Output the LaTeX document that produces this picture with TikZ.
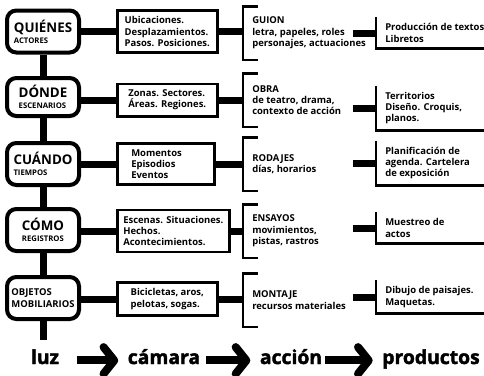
\documentclass[tikz,border=0pt]{standalone}
\usepackage{fontspec}
\setmainfont{Open Sans}
\newfontfamily\heavyfont{Open Sans}[BoldFeatures={FakeBold=2}]
\usetikzlibrary{arrows.meta}
\newcommand{\rotulo}[1]{{\fontsize{10}{11}\selectfont #1}}
\newcommand{\etiq}[1]{{\fontsize{5.8}{7.5}\selectfont #1}}
\begin{document}
\begin{tikzpicture}[x=0.75pt, y=-0.75pt, font=\bfseries\fontsize{7.1}{8.5}\selectfont,
  quien/.style={draw, line width=3pt, rounded corners=7pt, minimum width=54pt, minimum height=31.5pt, inner sep=0pt, align=left},
  caja/.style={draw, line width=1.9pt, inner xsep=4.5pt, inner ysep=4.5pt, minimum width=75pt, align=left, anchor=west},
  llave/.style={anchor=west, inner xsep=6.75pt, minimum height=39.75pt, align=left},
  prod/.style={anchor=west, inner xsep=6.75pt, inner ysep=4.5pt, align=left},
  grueso/.style={line width=5.25pt},
  fino/.style={line width=1.9pt},
  flecha/.style={line width=6pt, -{Straight Barb[length=8pt, width=20pt, round]}},
  final/.style={anchor=base, inner sep=0pt, font=\heavyfont\bfseries\fontsize{14.5}{16}\selectfont}]
  \useasboundingbox (0,0) rectangle (484,375);
  \coordinate (borde) at (484,0);
  \coordinate (cola) at (43,340);
  % quienes
  \node[quien] (a1) at (43,31.5) {\rotulo{QUIÉNES}\\\etiq{ACTORES}};
  \node[caja] (b1) at (116,31.5) {Ubicaciones.\\Desplazamientos.\\Pasos. Posiciones.};
  \node[llave] (g1) at (243,33) {GUION\\letra, papeles, roles\\personajes, actuaciones};
  \node[prod] (p1) at (376,33) {Producción de textos\\Libretos};
  % donde
  \node[quien, minimum height=28.5pt] (a2) at (43,97) {\rotulo{DÓNDE}\\\etiq{ESCENARIOS}};
  \node[caja] (b2) at (116,100) {Zonas. Sectores.\\Áreas. Regiones.};
  \node[llave] (g2) at (243,100) {OBRA\\de teatro, drama,\\contexto de acción};
  \node[prod] (p2) at (376,108) {Territorios\\Diseño. Croquis,\\planos.};
  % cuando
  \node[quien] (a3) at (43,164) {\rotulo{CUÁNDO}\\\etiq{TIEMPOS}};
  \node[caja, inner xsep=10.5pt, text width=51.75pt, minimum width=0pt] (b3) at (116,164) {Momentos\\Episodios\\Eventos};
  \node[llave] (g3) at (243,164) {RODAJES\\días, horarios};
  \node[prod] (p3) at (376,163) {Planificación de\\agenda. Cartelera\\de exposición};
  % como
  \node[quien] (a4) at (43,230) {\rotulo{CÓMO}\\\etiq{REGISTROS}};
  \node[caja] (b4) at (116,231) {Escenas. Situaciones.\\Hechos.\\Acontecimientos.};
  \node[llave] (g4) at (243,231) {ENSAYOS\\movimientos,\\pistas, rastros};
  \node[prod] (p4) at (376,228) {Muestreo de\\actos};
  % objetos
  \node[quien, font=\bfseries\fontsize{7.1}{9.5}\selectfont] (a5) at (43,298) {OBJETOS\\MOBILIARIOS};
  \node[caja] (b5) at (116,299) {Bicicletas, aros,\\pelotas, sogas.};
  \node[llave] (g5) at (243,300) {MONTAJE\\recursos materiales};
  \node[prod] (p5) at (376,297) {Dibujo de paisajes.\\Maquetas.};
  \foreach \i in {1,...,5} {
    \draw[grueso] (a\i.east |- b\i.west) -- (b\i.west);
    \draw[grueso] (b\i.east) -- (b\i.east -| g\i.west);
    \draw[grueso] ([xshift=-17.25pt]p\i.west) -- (p\i.west);
    \draw[fino] ([xshift=11pt]g\i.north west) -- (g\i.north west) -- (g\i.south west) -- ++(15,0);
    \draw[fino] (p\i.north west) -- (p\i.south west) -- (p\i.south west -| borde);
  }
  \foreach \i [count=\j from 2] in {1,...,4} \draw[grueso] (a\i.south) -- (a\j.north);
  \draw[grueso] (a5.south) -- (cola);
  % luz, camara, accion
  \node[final] (luz) at (45,364) {luz};
  \node[final] (camara) at (164,364) {cámara};
  \node[final] (accion) at (291,364) {acción};
  \node[final] (productos) at (431,364) {productos};
  \foreach \s/\t/\k in {luz/camara/13, camara/accion/4, accion/productos/2}
    \draw[flecha, shorten <=\k pt, shorten >=7pt] (\s.mid east) -- (\t.mid west);
\end{tikzpicture}
\end{document}
